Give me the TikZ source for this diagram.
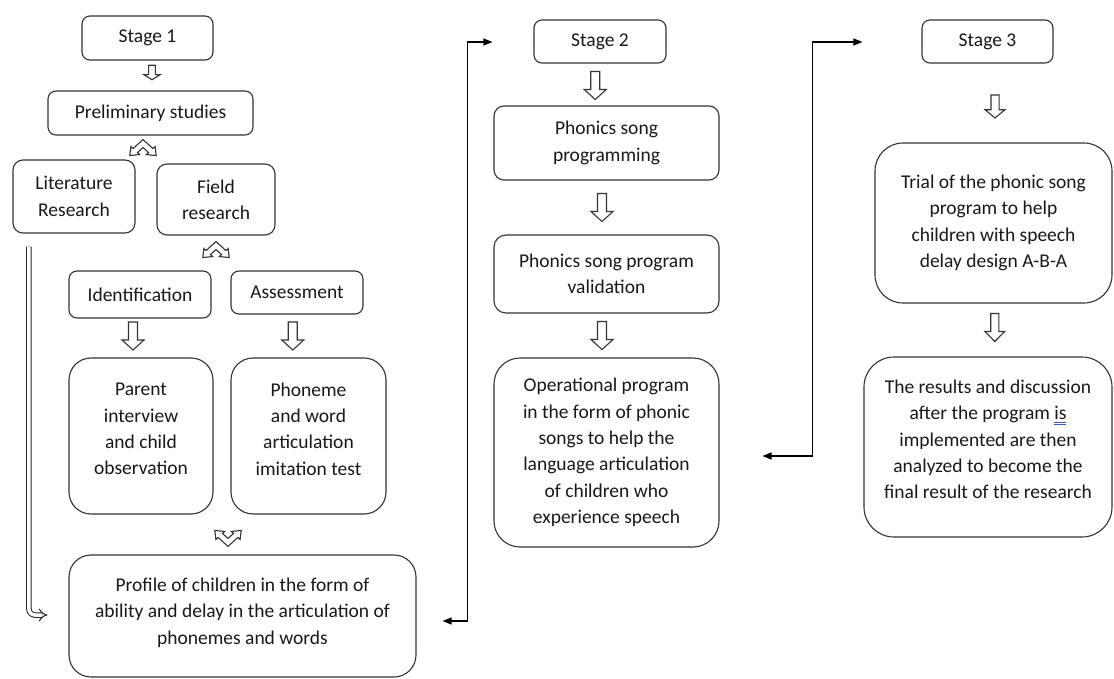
\documentclass[tikz,border=0pt]{standalone}
\usepackage{fontspec}
\setmainfont{Carlito}
\usetikzlibrary{arrows.meta,calc}
\definecolor{ulblue}{RGB}{60,90,200}
\newcommand{\grammarul}[1]{\sbox0{#1}\rlap{\color{ulblue}\rule[-2.6pt]{\wd0}{0.7pt}}\rlap{\color{ulblue}\rule[-4.8pt]{\wd0}{0.7pt}}\usebox0}
\newcommand{\extradepth}[1]{\rule[-#1]{0pt}{#1}}
\tikzset{
  box/.style={draw=black!80, line width=1.1pt, rounded corners=#1, align=center,
    inner sep=2pt, text=black!90, font=\fontsize{19.5}{26.3}\selectfont},
  box/.default=8pt,
  hollow/.style={draw=black!80, line width=1.1pt, fill=white, line join=miter},
  downblk/.pic={\path[hollow] (-4.5,-14) -- (4.5,-14) -- (4.5,4) -- (11,4) -- (0,14) -- (-11,4) -- (-4.5,4) -- cycle;},
  upchev/.pic={\path[hollow] (0,-9) -- (9,0) -- (11,-2) -- (12,7) -- (3,6) -- (5,4) -- (0,-1) -- (-5,4) -- (-3,6) -- (-12,7) -- (-11,-2) -- (-9,0) -- cycle;},
  conn/.style={draw=black, line width=1.2pt},
}
\begin{document}
\begin{tikzpicture}[x=1pt,y=-1pt]
\useasboundingbox[fill=white] (0,0) rectangle (1114,679);

% Stage 1
\node[box, minimum width=131pt, minimum height=44pt] (s1) at (147.5,38) {Stage 1};
\node[box, minimum width=205pt, minimum height=44pt] (pre) at (150.5,113) {Preliminary studies};
\node[box=10pt, minimum width=122pt, minimum height=73pt] (lit) at (74,196.5) {Literature\\Research};
\node[box=10pt, minimum width=118pt, minimum height=71pt] (fld) at (216,199.5) {Field\\research};
\node[box, minimum width=142pt, minimum height=47pt] (id) at (140,294.5) {Identification};
\node[box, minimum width=132pt, minimum height=43pt] (as) at (297,292.5) {Assessment};
\node[box=22pt, minimum width=144pt, minimum height=156pt] (par) at (141,436) {Parent\\interview\\and child\\observation\extradepth{14pt}};
\node[box=22pt, minimum width=155pt, minimum height=156pt] (pho) at (308.5,436) {Phoneme\\and word\\articulation\\imitation test\extradepth{14pt}};
\node[box=22pt, minimum width=347pt, minimum height=122pt] (pro) at (242.5,616) {Profile of children in the form of\\ability and delay in the articulation of\\phonemes and words\extradepth{10pt}};

% Stage 2
\node[box, minimum width=132pt, minimum height=43pt] (s2) at (600,41.5) {Stage 2};
\node[box=10pt, minimum width=225pt, minimum height=74pt] (prg) at (606.5,143) {Phonics song\\programming};
\node[box=12pt, minimum width=225pt, minimum height=78pt] (val) at (606.5,274) {Phonics song program\\validation};
\node[box=26pt, minimum width=225pt, minimum height=189pt] (op) at (606.5,452.5) {Operational program\\in the form of phonic\\songs to help the\\language articulation\\of children who\\experience speech};

% Stage 3
\node[box, minimum width=131pt, minimum height=43pt] (s3) at (987.5,41.5) {Stage 3};
\node[box=28pt, minimum width=237pt, minimum height=160pt] (tri) at (993.5,223) {Trial of the phonic song\\program to help\\children with speech\\delay design A-B-A};
\node[box=30pt, minimum width=248pt, minimum height=180pt] (res) at (988,447) {The results and discussion\\after the program \grammarul{is}\\implemented are then\\analyzed to become the\\final result of the research\extradepth{15pt}};

% hollow block arrows
\pic[xscale=0.75,yscale=0.52] at ($(s1.south)!0.5!(pre.north)+(3,-3)$) {downblk};
\pic at ($(id.south)!0.5!(par.north)+(-7.5,-2)$) {downblk};
\pic at ($(as.south)!0.5!(pho.north)+(-10,0)$) {downblk};
\pic at ($(s2.south)!0.5!(prg.north)+(-8,1)$) {downblk};
\pic at ($(prg.south)!0.5!(val.north)+(-4.5,0)$) {downblk};
\pic at ($(val.south)!0.5!(op.north)+(-4.5,0)$) {downblk};
\pic[xscale=0.9,yscale=0.82] at ($(s3.south)!0.5!(tri.north)+(4.5,3.5)$) {downblk};
\pic[xscale=0.9] at ($(tri.south)!0.5!(res.north)+(4,-2.5)$) {downblk};

% chevrons
\pic[xscale=1.1] at ($(pre.south)+(-7.5,13)$) {upchev};
\pic[xscale=1.1] at ($(fld.south)+(0,15)$) {upchev};
\pic[xscale=1.1,yscale=-1] at ($(pro.north)+(-14.5,-17)$) {upchev};

% left double arrow
\coordinate (l1) at ($(lit.south west)+(16.5,13)$);
\coordinate (l2) at ($(pro.west)+(-21,-1)$);
\draw[draw=black!85, line width=1pt, double=white, double distance=3.5pt, rounded corners=6pt, -{Implies}] (l1) |- (l2);

% connectors between stages
\coordinate (a1) at ($(pro.east)+(26,5)$);
\coordinate (a2) at ($(s2.west)+(-41,0.5)$);
\draw[conn, {Triangle[length=9pt,width=7pt]}-{Triangle[length=9pt,width=7pt]}] (a1) -- ++(25,0) |- (a2);
\coordinate (a3) at ($(op.east)+(43,3.5)$);
\coordinate (a4) at ($(s3.west)+(-59,0.5)$);
\draw[conn, {Triangle[length=9pt,width=7pt]}-{Triangle[length=9pt,width=7pt]}] (a3) -- ++(50,0) |- (a4);
\end{tikzpicture}
\end{document}
